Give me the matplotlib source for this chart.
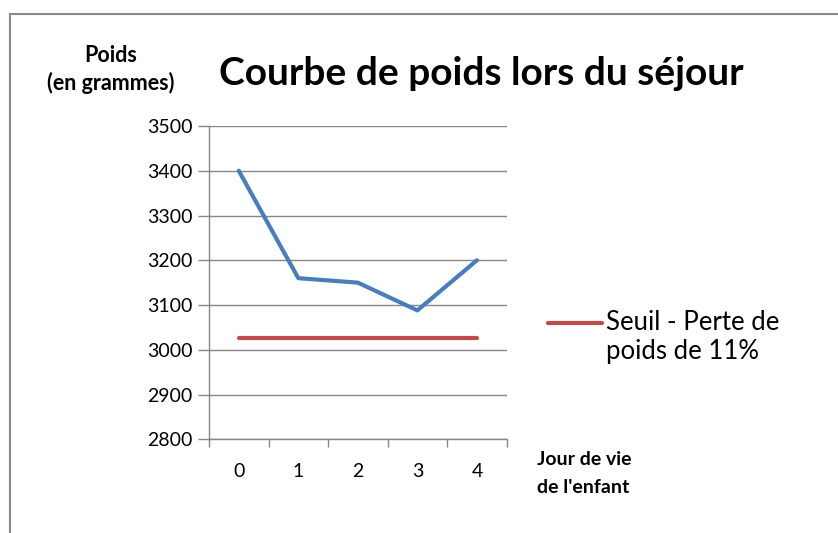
import matplotlib
matplotlib.use("Agg")
import matplotlib.pyplot as plt
from matplotlib.patches import Rectangle
from matplotlib.ticker import FixedLocator

# ---- data ----
days = ["0", "1", "2", "3", "4"]
poids = [3400, 3160, 3150, 3088, 3200]
seuil = [3026, 3026, 3026, 3026, 3026]
y_ticks = [2800, 2900, 3000, 3100, 3200, 3300, 3400, 3500]

title = "Courbe de poids lors du séjour"
y_label_1 = "Poids"
y_label_2 = "(en grammes)"
x_label_1 = "Jour de vie"
x_label_2 = "de l'enfant"
legend_label = "Seuil - Perte de\npoids de 11%"

W, H = 838, 533
plt.rcParams['font.family'] = ['Lato', 'DejaVu Sans']

fig = plt.figure(figsize=(W / 100, H / 100), dpi=100)
fig.patch.set_facecolor("white")

def fx(px):
    return px / W

def fy(py):
    return 1 - py / H

# outer chart border (top-left corner visible)
fig.patches.append(Rectangle((fx(10), fy(560)), fx(900), fy(14) - fy(560),
                             transform=fig.transFigure, fill=False,
                             edgecolor="#8a8a8a", linewidth=1.5, zorder=0))

ax = fig.add_axes([fx(209), fy(439.3), fx(506.7) - fx(209), fy(126) - fy(439.3)])
x = list(range(len(days)))
ax.plot(x, poids, color="#4a7ebb", linewidth=3.0, solid_capstyle="round",
        solid_joinstyle="round", zorder=3)
line_seuil, = ax.plot(x, seuil, color="#be4b48", linewidth=3.0,
                      solid_capstyle="round", zorder=3)

ax.set_xlim(-0.5, len(days) - 0.5)
ax.set_ylim(y_ticks[0], y_ticks[-1])
ax.set_yticks(y_ticks)
ax.set_yticklabels([str(v) for v in y_ticks], fontsize=14, color="#000000")
ax.set_xticks(x)
ax.set_xticklabels(days, fontsize=14, color="#000000")
ax.xaxis.set_minor_locator(FixedLocator([i - 0.5 for i in range(len(days) + 1)]))
ax.tick_params(axis="x", which="major", length=0, pad=17)
ax.tick_params(axis="x", which="minor", length=6, color="#868686", width=1)
ax.tick_params(axis="y", which="major", length=8, color="#868686", width=1, pad=4)

ax.grid(axis="y", color="#868686", linewidth=1.0)
ax.set_axisbelow(True)
for s in ["top", "right"]:
    ax.spines[s].set_visible(False)
for s in ["left", "bottom"]:
    ax.spines[s].set_color("#868686")
    ax.spines[s].set_linewidth(1.0)

# title and labels
fig.text(fx(481.5), fy(85), title, fontsize=28, fontweight="bold",
         ha="center", va="baseline")
fig.text(fx(111), fy(62), y_label_1, fontsize=15.5, fontweight="bold",
         ha="center", va="baseline")
fig.text(fx(111), fy(90), y_label_2, fontsize=15.5, fontweight="bold",
         ha="center", va="baseline")
fig.text(fx(537), fy(465), x_label_1, fontsize=14, fontweight="bold",
         ha="left", va="baseline")
fig.text(fx(537), fy(493), x_label_2, fontsize=14, fontweight="bold",
         ha="left", va="baseline")

# legend
leg_fs = 18.5
leg = fig.legend([line_seuil], [legend_label], loc="center left",
                 bbox_to_anchor=(fx(548), fy(337)), frameon=False, fontsize=leg_fs,
                 handlelength=2.1, handletextpad=0.16, borderpad=0,
                 labelspacing=0, borderaxespad=0)
for t in leg.get_texts():
    t.set_linespacing(1.25)
# put the legend key level with the first line of its label (as in the original)
h = leg.legend_handles[0]
h.set_ydata([v + 11.0 for v in h.get_ydata()])

fig.savefig("out.png", dpi=100)
